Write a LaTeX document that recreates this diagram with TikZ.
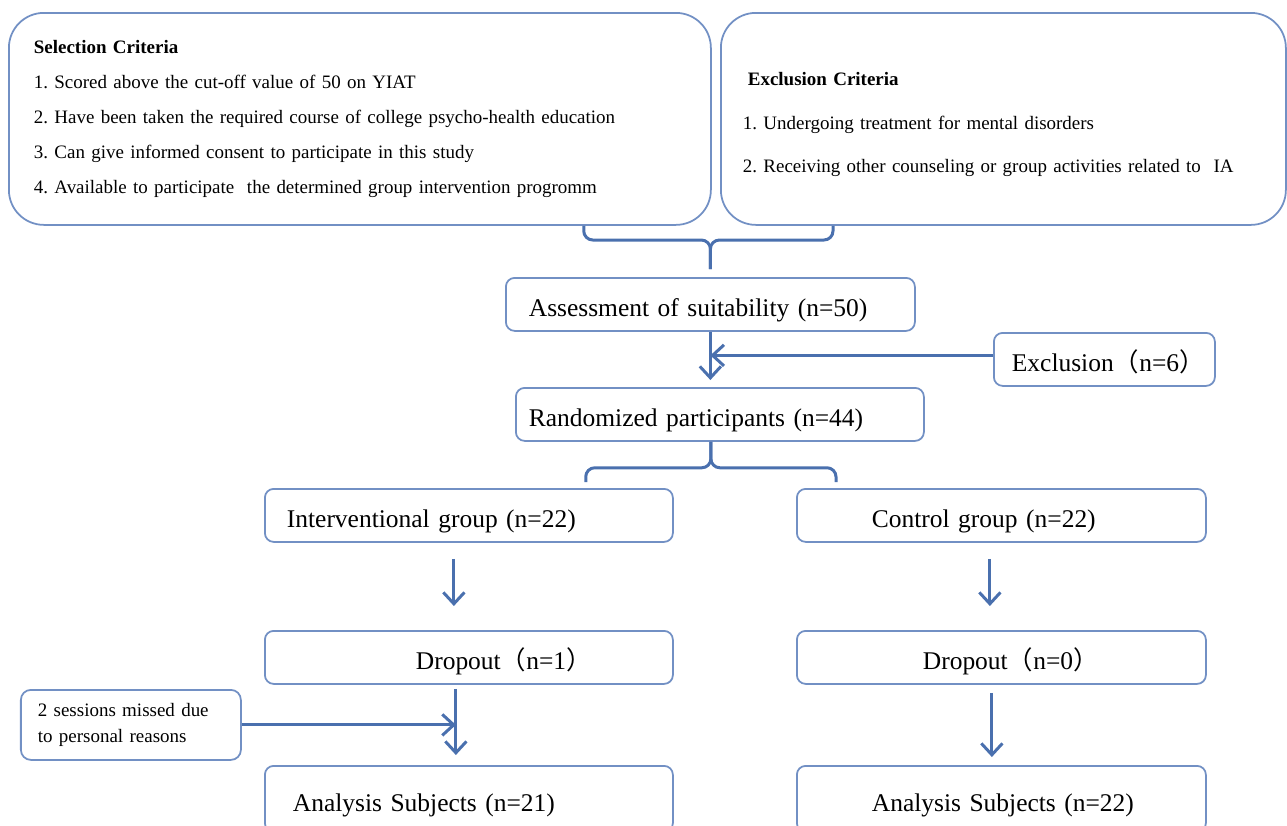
\documentclass[tikz,border=0pt]{standalone}
\usepackage{fontspec}
\setmainfont{Liberation Serif}
\newfontfamily\cjk{Noto Sans CJK SC}
\usetikzlibrary{arrows.meta}
\definecolor{boxblue}{RGB}{114,144,196}
\definecolor{linkblue}{RGB}{74,112,174}
\newcommand{\lp}{{\cjk （}}
\newcommand{\rp}{{\cjk ）}}

\begin{document}
\frenchspacing
\begin{tikzpicture}[
	box/.style={draw=boxblue, line width=1pt, rounded corners=5pt, anchor=north west,
		inner xsep=0pt, inner ysep=0pt, align=left, minimum height=1.06cm,
		text height=14.2pt, text depth=0pt, font=\fontsize{14.5}{17}\selectfont},
	crit/.style={box, rounded corners=0.7cm, minimum height=4.24cm, text height=, text depth=},
	indent/.style={execute at begin node={\hspace*{#1}}},
	link/.style={draw=linkblue, line width=1.7pt},
	arr/.style={link, -{Straight Barb[length=6.5pt,width=12pt,line width=1.7pt]}},
	]
		%%%%% START %%%%%
		\useasboundingbox (0,0) rectangle (25.74,-16.5);
		
		% criteria
		\node[crit, inner xsep=0.5cm, text width=13.04cm, font=\fontsize{10.8}{19.8}\selectfont] (sel) at (0.16,-0.24)
			{\textbf{Selection Criteria}\\
			1. Scored above the cut-off value of 50 on YIAT\\
			2. Have been taken the required course of college psycho-health education\\
			3. Can give informed consent to participate in this study\\
			4. Available to participate \ the determined group intervention progromm};
		\node[crit, inner xsep=0.44cm, text width=10.42cm, font=\fontsize{10.8}{24.7}\selectfont] (exc) at (14.4,-0.24)
			{\rule{0pt}{0.5cm}\hspace*{0.1cm}\textbf{Exclusion Criteria}\\
			1. Undergoing treatment for mental disorders\\
			2. Receiving other counseling or group activities related to \ IA};
		
		% main flow
		\node[box, text width=8.18cm, indent=0.46cm] (asm) at (10.1,-5.54) {Assessment of suitability (n=50)};
		\node[box, text width=4.42cm, indent=0.36cm] (excl) at (19.86,-6.64) {Exclusion\lp n=6\rp};
		\node[box, text width=8.16cm, indent=0.26cm] (rnd) at (10.3,-7.74) {Randomized participants (n=44)};
		
		\node[box, text width=8.16cm, indent=0.44cm] (ivg) at (5.28,-9.76) {Interventional group (n=22)};
		\node[box, text width=8.18cm, indent=1.5cm] (ctl) at (15.92,-9.76) {Control group (n=22)};
		
		\node[box, text width=8.16cm, indent=3.02cm] (drop1) at (5.28,-12.6) {Dropout\lp n=1\rp};
		\node[box, text width=8.18cm, indent=2.52cm] (drop2) at (15.92,-12.6) {Dropout\lp n=0\rp};
		
		\node[box, rounded corners=0.2cm, minimum height=1.4cm, inner xsep=0.34cm, text width=3.72cm,
			text height=, text depth=, font=\fontsize{10.8}{15.3}\selectfont] (note) at (0.4,-13.78)
			{2 sessions missed due\\to personal reasons};
		
		\node[box, minimum height=1.32cm, text width=8.16cm, indent=0.56cm] (ana1) at (5.28,-15.3) {Analysis Subjects (n=21)};
		\node[box, minimum height=1.32cm, text width=8.18cm, indent=1.5cm] (ana2) at (15.92,-15.3) {Analysis Subjects (n=22)};
		
		% braces
		\coordinate (selfoot) at ([xshift=-2.56cm]sel.south east);
		\coordinate (excfoot) at ([xshift=2.26cm]exc.south west);
		\coordinate (join) at ([yshift=0.74cm]asm.north);
		\draw[link, rounded corners=0.18cm] (selfoot) |- (join) -- ([yshift=0.16cm]asm.north);
		\draw[link, rounded corners=0.18cm] (excfoot) |- (join) -- ([yshift=0.16cm]asm.north);
		
		\coordinate (split) at ([xshift=-0.18cm]rnd.south);
		\coordinate (ivgfoot) at ([xshift=-1.76cm,yshift=0.12cm]ivg.north east);
		\coordinate (ctlfoot) at ([xshift=0.8cm,yshift=0.12cm]ctl.north west);
		\draw[link, rounded corners=0.18cm] (split) -- ++(0,-0.52) -| (ivgfoot);
		\draw[link, rounded corners=0.18cm] (split) -- ++(0,-0.52) -| (ctlfoot);
		
		% arrows
		\draw[arr, shorten >=0.14cm] (asm.south) -- (asm.south |- rnd.north);
		\draw[arr] ([yshift=0.08cm]excl.west) -- ([yshift=0.08cm]excl.west -| asm.south);
		
		\draw[arr, shorten <=0.32cm, shorten >=0.48cm] ([xshift=-0.3cm]ivg.south) -- ([xshift=-0.3cm]drop1.north);
		\draw[arr, shorten <=0.32cm, shorten >=0.48cm] ([xshift=-0.23cm]ctl.south) -- ([xshift=-0.23cm]drop2.north);
		
		\coordinate (mid1) at ([xshift=-0.26cm]drop1.south);
		\draw[arr, shorten <=0.08cm, shorten >=0.2cm] (mid1) -- ([xshift=-0.26cm]ana1.north);
		\draw[arr, shorten <=0.16cm, shorten >=0.16cm] ([xshift=-0.19cm]drop2.south) -- ([xshift=-0.19cm]ana2.north);
		\draw[arr] (note.east) -- (note.east -| mid1);
		
		%%%%% END %%%%%
	\end{tikzpicture}
\end{document}
